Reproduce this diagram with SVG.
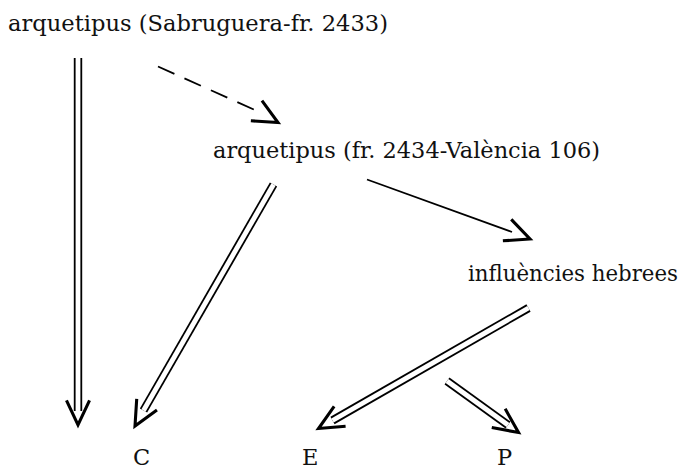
<svg xmlns="http://www.w3.org/2000/svg" width="692" height="470" viewBox="0 0 692 470">
<style>
.lbl{font-family:"DejaVu Serif","Liberation Serif",serif;font-size:22.5px;fill:#111}
.outer{fill:none;stroke:#000;stroke-width:8.4;stroke-linecap:butt}
.inner{fill:none;stroke:#fff;stroke-width:4.8;stroke-linecap:butt}
.single{fill:none;stroke:#000;stroke-width:1.8}
.dash{fill:none;stroke:#000;stroke-width:1.8;stroke-dasharray:18 11}
.tip{fill:none;stroke:none;marker-end:url(#v)}
</style>
<defs>
<marker id="v" markerUnits="userSpaceOnUse" orient="auto" refX="0" refY="0" markerWidth="40" markerHeight="40" viewBox="-22 -12 26 24" overflow="visible">
<path d="M -16 -7.5 L 0 0 L -16 7.5" fill="none" stroke="#000" stroke-width="2" stroke-linejoin="miter"/>
</marker>
</defs>
<rect width="692" height="470" fill="#fff"/>
<g id="connectors">
<g id="e-sab-C">
<path class="outer" d="M78 58 L78 411"/><path class="inner" d="M78 58 L78 411"/>
<path class="tip" d="M78 411 L78 425"/>
</g>
<g id="e-sab-fr">
<path class="dash" d="M158 66.5 L257 111"/>
<path class="tip" d="M257 111 L278 122.5"/>
</g>
<g id="e-fr-C">
<path class="outer" d="M273.5 184.5 L143.5 410.5"/><path class="inner" d="M273.5 184.5 L143.5 410.5"/>
<path class="tip" d="M143.5 410.5 L135 426"/>
</g>
<g id="e-fr-inf">
<path class="single" d="M367 179.5 L512 232"/>
<path class="tip" d="M512 232 L530 239"/>
</g>
<g id="e-inf-E">
<path class="outer" d="M528.5 308 L332.5 420.5"/><path class="inner" d="M528.5 308 L332.5 420.5"/>
<path class="tip" d="M332.5 420.5 L318.5 428.5"/>
</g>
<g id="e-inf-P">
<path class="outer" d="M447 381 L508 425"/><path class="inner" d="M447 381 L508 425"/>
<path class="tip" d="M508 425 L518.5 432.5"/>
</g>
</g>
<g id="n-sab"><text class="lbl" x="8" y="31" textLength="380" lengthAdjust="spacingAndGlyphs">arquetipus (Sabruguera-fr. 2433)</text></g>
<g id="n-fr"><text class="lbl" x="213" y="158" textLength="387" lengthAdjust="spacingAndGlyphs">arquetipus (fr. 2434-València 106)</text></g>
<g id="n-inf"><text class="lbl" x="468" y="281" textLength="210" lengthAdjust="spacingAndGlyphs">influències hebrees</text></g>
<g id="n-C"><text class="lbl" x="133" y="465">C</text></g>
<g id="n-E"><text class="lbl" x="302" y="465">E</text></g>
<g id="n-P"><text class="lbl" x="497" y="465">P</text></g>
</svg>
